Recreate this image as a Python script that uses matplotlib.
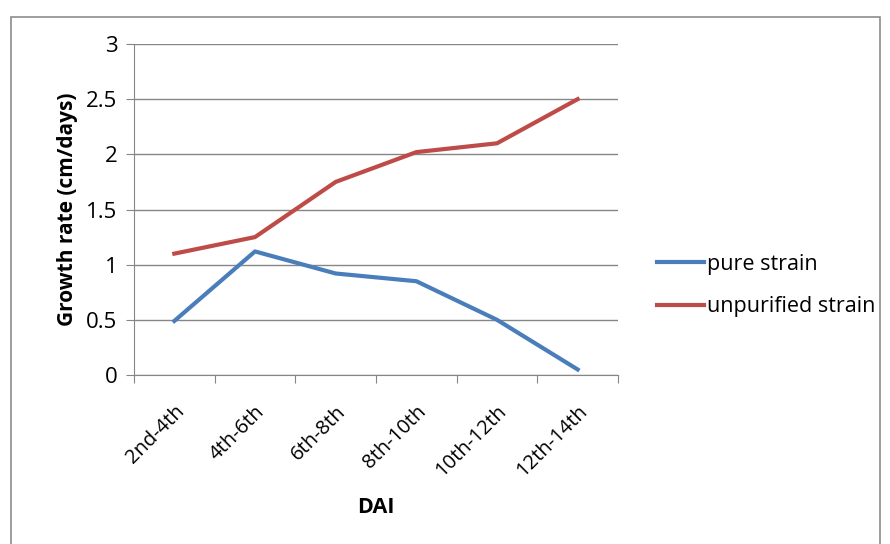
import numpy as np
import matplotlib
matplotlib.use('Agg')
import matplotlib.pyplot as plt
from matplotlib.patches import Rectangle
from matplotlib.transforms import ScaledTranslation

# ----- data -----
periods = ["2nd-4th", "4th-6th", "6th-8th", "8th-10th", "10th-12th", "12th-14th"]
pure_strain = [0.49, 1.12, 0.92, 0.85, 0.50, 0.05]
unpurified_strain = [1.10, 1.25, 1.75, 2.02, 2.10, 2.50]
y_ticks = [0, 0.5, 1, 1.5, 2, 2.5, 3]

plt.rcParams['font.family'] = ['Open Sans', 'DejaVu Sans']

fig = plt.figure(figsize=(8.9, 5.44), dpi=100)
W, H = 890, 544

# outer chart border (Excel style frame)
fig.patches.append(Rectangle((11 / W, -0.1), 869 / W, 1.1 - 17 / H,
                             transform=fig.transFigure, fill=False,
                             edgecolor='#8c8c8c', linewidth=1.2))

ax = fig.add_axes([134 / W, 1 - 375 / H, (618 - 134) / W, (375 - 44) / H])

x = np.arange(len(periods))
ax.plot(x, pure_strain, color='#4a7ebb', linewidth=3, label='pure strain')
ax.plot(x, unpurified_strain, color='#be4b48', linewidth=3, label='unpurified strain')

ax.set_xlim(-0.5, len(periods) - 0.5)
ax.set_ylim(0, 3)
ax.set_yticks(y_ticks)
ax.set_yticklabels([f"{v:g}" for v in y_ticks])

# category boundaries carry the tick marks, centres carry the labels
ax.set_xticks(np.arange(len(periods) + 1) - 0.5)
ax.set_xticklabels([])
ax.set_xticks(x, minor=True)
labels = ax.set_xticklabels(periods, minor=True, rotation=45, ha='right',
                            rotation_mode='anchor', fontsize=14.5)
shift = ScaledTranslation(-5 / 100, 0, fig.dpi_scale_trans)
for lab in labels:
    lab.set_transform(lab.get_transform() + shift)
ax.tick_params(axis='x', which='minor', length=0, pad=19)
ax.tick_params(axis='x', which='major', length=6, color='#868686')
ax.tick_params(axis='y', length=6, color='#868686', labelsize=16, pad=6)

ax.grid(axis='y', color='#868686', linewidth=1)
ax.set_axisbelow(True)
for side in ['top', 'right']:
    ax.spines[side].set_visible(False)
for side in ['left', 'bottom']:
    ax.spines[side].set_color('#868686')

ax.set_ylabel("Growth rate (cm/days)", fontsize=15, fontweight='bold', labelpad=6)
ax.set_xlabel("DAI", fontsize=15.5, fontweight='bold', labelpad=12)

ax.legend(loc='center left', bbox_to_anchor=(1.04, 0.27), frameon=False,
          fontsize=15.5, handlelength=2.2, handletextpad=0.15, labelspacing=1.0)

fig.savefig("out.png", dpi=100)
